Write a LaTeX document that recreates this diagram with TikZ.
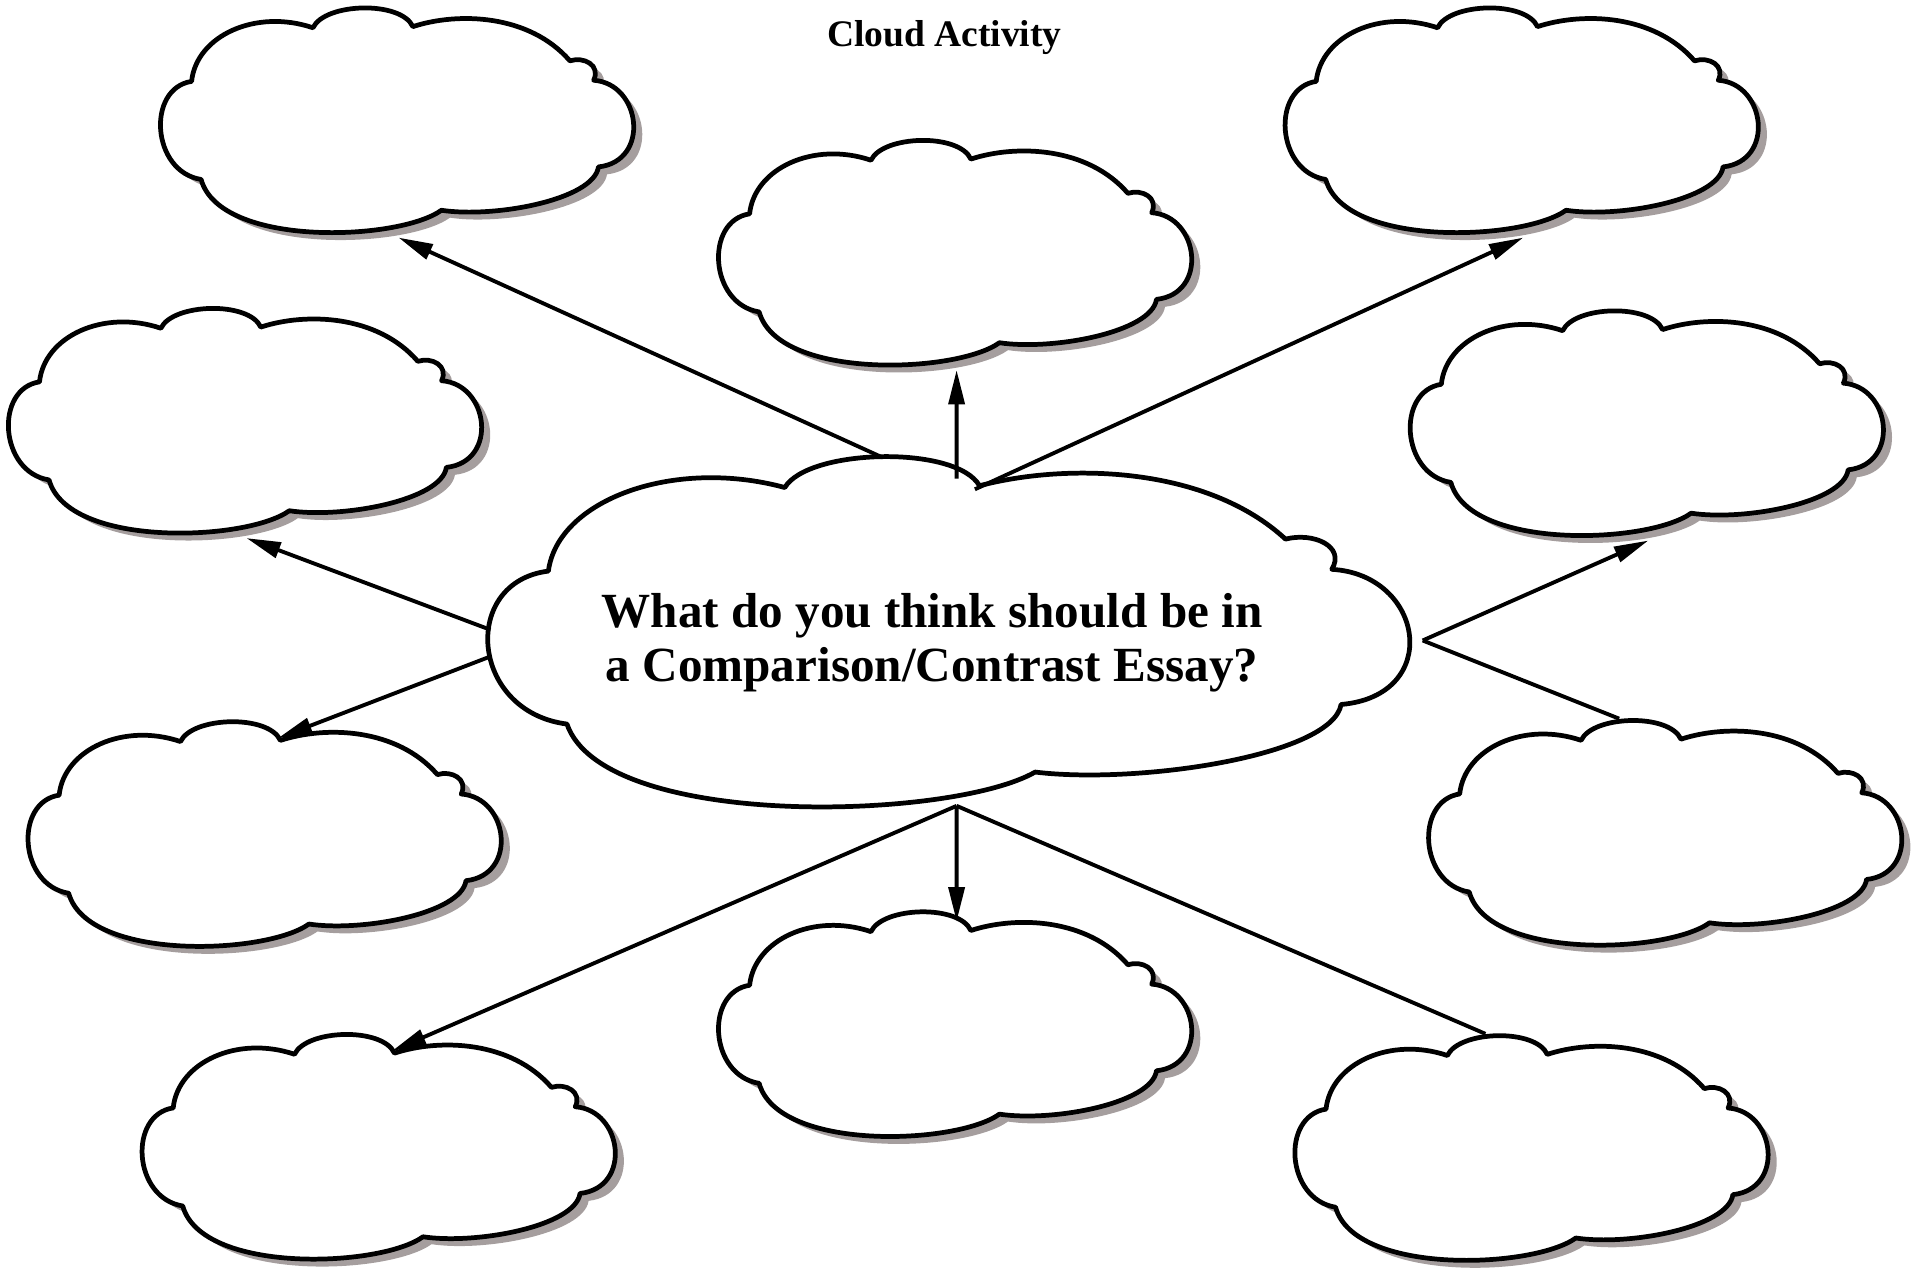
\documentclass[tikz,border=0pt]{standalone}
\usepackage{fontspec}
\setmainfont{Liberation Serif}
\usetikzlibrary{arrows.meta}
\definecolor{cloudshade}{HTML}{A59E9E}
\newcommand{\cloudoutline}{(-0.87,0.34) .. controls (-0.85,0.74) and (-0.60,0.98) .. (-0.36,0.81)
  .. controls (-0.31,1.03) and (0.01,1.05) .. (0.06,0.82)
  .. controls (0.25,0.95) and (0.55,0.93) .. (0.72,0.52)
  .. controls (0.78,0.56) and (0.85,0.48) .. (0.82,0.35)
  .. controls (1.02,0.32) and (1.06,-0.36) .. (0.84,-0.41)
  .. controls (0.82,-0.70) and (0.40,-0.86) .. (0.18,-0.79)
  .. controls (0.0,-1.06) and (-0.75,-1.12) .. (-0.83,-0.52)
  .. controls (-1.04,-0.45) and (-1.06,0.28) .. (-0.87,0.34) -- cycle}
\tikzset{
  cloud/.pic={
    \begin{scope}[xscale=1.94,yscale=0.93]
      \fill[cloudshade,shift={(0.036,-0.065)}] \cloudoutline;
      \draw[fill=white,line width=1.1pt,line join=round] \cloudoutline;
      \coordinate (-s) at (0,-1.03);
      \coordinate (-n) at (0.05,0.84);
      \coordinate (-m) at (0,0.9);
      \coordinate (-p) at (-0.2,1.0);
    \end{scope}
  },
  bigcloud/.pic={
    \begin{scope}[xscale=3.78,yscale=1.45]
      \draw[fill=white,line width=1.1pt,line join=round] \cloudoutline;
      \coordinate (-a) at (-0.15,0.98);
      \coordinate (-b) at (0.0106,0.86);
      \coordinate (-c) at (0.05,0.80);
      \coordinate (-w1) at (-0.995,0.01);
      \coordinate (-w2) at (-0.995,-0.14);
      \coordinate (-e) at (1.016,-0.05);
      \coordinate (-s) at (0.0106,-0.98);
    \end{scope}
  },
  arrowline/.style={line width=0.9pt,-{Triangle[length=2.8mm,width=1.3mm]}},
  plainline/.style={line width=0.9pt}
}
\begin{document}
\begin{tikzpicture}
  \useasboundingbox (0,0) rectangle (15.68,10.40);
  \foreach \n/\x/\y in {tl/3.25/9.42, tm/7.80/8.34, tr/12.42/9.42, lu/2.01/6.97, ru/13.44/6.95,
    ll/2.17/3.60, rl/13.59/3.61, bl/3.10/1.05, bm/7.80/2.05, br/12.50/1.04}
    \pic (\n) at (\x,\y) {cloud};
  \pic (mid) at (7.76,5.25) {bigcloud};
  \node[font=\bfseries\fontsize{8.7}{10}\selectfont] (title) at (7.70,10.09) {Cloud Activity};
  \node[font=\bfseries\fontsize{11.4}{12.4}\selectfont,align=center] (q) at (7.60,5.16)
    {What do you think should be in\\a Comparison/Contrast Essay?};
  \draw[arrowline] (mid-a) -- (tl-s);
  \draw[arrowline] (mid-b) -- (tm-s);
  \draw[arrowline] (mid-c) -- (tr-s);
  \draw[arrowline] (mid-w1) -- (lu-s);
  \draw[arrowline] (mid-w2) -- (ll-n);
  \draw[arrowline] (mid-e) -- (ru-s);
  \draw[plainline] (mid-e) -- (rl-p);
  \draw[arrowline] (mid-s) -- (bl-n);
  \draw[arrowline] (mid-s) -- (bm-m);
  \draw[plainline] (mid-s) -- (br-p);
\end{tikzpicture}
\end{document}
